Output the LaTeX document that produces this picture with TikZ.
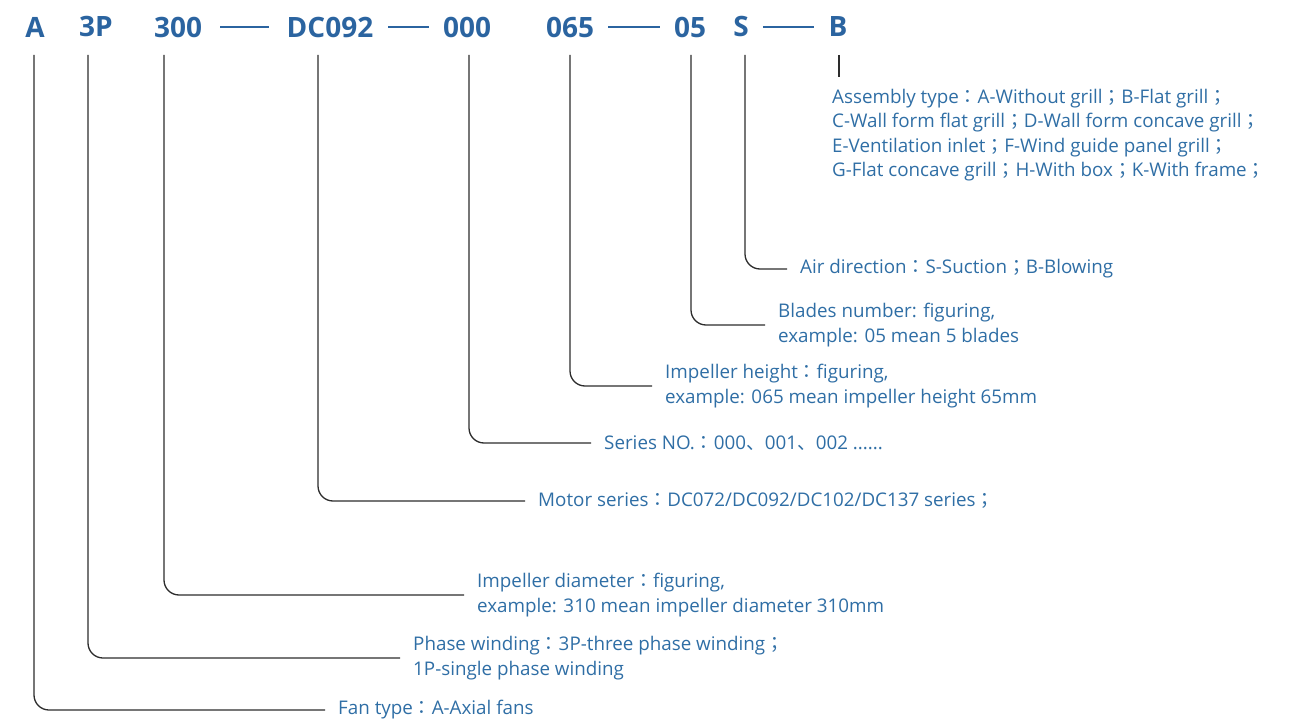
\documentclass[tikz,border=0pt]{standalone}
\usepackage{fontspec}
\setmainfont{Open Sans}
\newfontfamily\cjk{Noto Sans CJK SC}
\newfontfamily\cjktc{Noto Sans CJK TC}
\definecolor{codeblue}{RGB}{43,100,160}
\definecolor{txtblue}{RGB}{47,110,165}
\definecolor{leadgray}{RGB}{45,45,45}
\newcommand{\fcol}{{\cjktc ：}}
\newcommand{\fsem}{{\cjktc ；}}
\newcommand{\fdn}{{\cjk 、}}
\begin{document}
\begin{tikzpicture}[x=1pt,y=-1pt,
	code/.style={text=codeblue,font=\fontsize{28}{30}\selectfont\bfseries,inner sep=0pt},
	lbl/.style={text=txtblue,font=\fontsize{18.8}{24.5}\selectfont,align=left,inner sep=0pt,anchor=west},
	lead/.style={draw=leadgray,line width=1.3pt,rounded corners=15pt,shorten >=13pt},
	sep/.style={draw=codeblue,line width=1.6pt}]
	\useasboundingbox (0,0) rectangle (1312,722);
	% code string
	\node[code] (cA) at (35,27) {A};
	\node[code] (c3P) at (96,27) {3P};
	\node[code] (c300) at (178,27) {300};
	\node[code] (cDC) at (330,27) {DC092};
	\node[code] (c000) at (467,27) {000};
	\node[code] (c065) at (570,27) {065};
	\node[code] (c05) at (690,27) {05};
	\node[code] (cS) at (741,27) {S};
	\node[code] (cB) at (838,27) {B};

	\draw[sep] ([xshift=18pt]c300.east) -- ([xshift=-18pt]cDC.west);
	\draw[sep] ([xshift=15pt]cDC.east) -- ([xshift=-14pt]c000.west);
	\draw[sep] ([xshift=14pt]c065.east) -- ([xshift=-14pt]c05.west);
	\draw[sep] ([xshift=14pt]cS.east) -- ([xshift=-14pt]cB.west);

	% tops of the leads
	\coordinate (tA) at (34,55);
	\coordinate (t3P) at (88,55);
	\coordinate (t300) at (164,55);
	\coordinate (tDC) at (318,55);
	\coordinate (t000) at (469,55);
	\coordinate (t065) at (570,55);
	\coordinate (t05) at (691,55);
	\coordinate (tS) at (745,55);
	\coordinate (tB) at (839,55);

	% explanations
	\node[lbl,anchor=north west] (lB) at (832,89) {Assembly type\fcol A-Without grill\fsem B-Flat grill\fsem\\C-Wall form flat grill\fsem D-Wall form concave grill\fsem\\E-Ventilation inlet\fsem F-Wind guide panel grill\fsem\\G-Flat concave grill\fsem H-With box\fsem K-With frame\fsem};
	\node[lbl] (lS) at (800,269) {Air direction\fcol S-Suction\fsem B-Blowing};
	\node[lbl] (l05) at (778,325) {Blades number: figuring,\\example: 05 mean 5 blades};
	\node[lbl] (l065) at (665,386) {Impeller height\fcol  figuring,\\example: 065 mean impeller height 65mm};
	\node[lbl] (l000) at (604,443) {Series NO.\fcol 000\fdn 001\fdn 002 ......};
	\node[lbl] (lDC) at (538,501) {Motor series\fcol DC072/DC092/DC102/DC137 series\fsem};
	\node[lbl] (l300) at (477,595) {Impeller diameter\fcol figuring,\\example: 310 mean impeller diameter 310mm};
	\node[lbl] (l3P) at (413,658) {Phase winding\fcol 3P-three phase winding\fsem\\1P-single phase winding};
	\node[lbl] (lA) at (338,710) {Fan type\fcol A-Axial fans};

	\draw[lead,shorten >=0pt] (tB) -- ([yshift=12pt]tB |- lB.north);
	\draw[lead] (tS) |- (lS.west);
	\draw[lead] (t05) |- (l05.west);
	\draw[lead] (t065) |- (l065.west);
	\draw[lead] (t000) |- (l000.west);
	\draw[lead] (tDC) |- (lDC.west);
	\draw[lead] (t300) |- (l300.west);
	\draw[lead] (t3P) |- (l3P.west);
	\draw[lead] (tA) |- (lA.west);
\end{tikzpicture}
\end{document}
